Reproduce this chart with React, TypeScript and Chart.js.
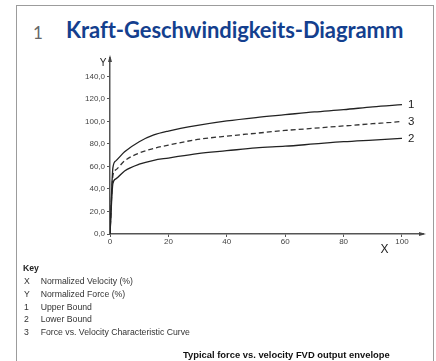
import React, { useEffect, useRef } from "react";
import { Chart, registerables } from "chart.js";

Chart.register(...registerables);

const velocity = [0, 1, 2, 5, 10, 15, 20, 30, 40, 50, 60, 70, 80, 90, 100];
const upperBound = [0, 59, 65, 73, 82, 88, 91.5, 96.5, 100.5, 103.5, 106, 108.5, 110.5, 113, 115];
const characteristic = [0, 52, 57, 65, 72, 76, 79, 84, 87, 89.5, 92, 94, 96, 98, 100];
const lowerBound = [0, 45, 49, 56, 62, 65.5, 67.5, 71.5, 74, 76.5, 78, 80, 82, 83.5, 85];
const seriesLabels = ["1", "3", "2"];
const xTicks = [0, 20, 40, 60, 80, 100];
const yTicks = [0, 20, 40, 60, 80, 100, 120, 140];
const keyRows: [string, string][] = [
  ["X", "Normalized Velocity (%)"],
  ["Y", "Normalized Force (%)"],
  ["1", "Upper Bound"],
  ["2", "Lower Bound"],
  ["3", "Force vs. Velocity Characteristic Curve"],
];

const toPoints = (ys: number[]) => velocity.map((x, i) => ({ x, y: ys[i] }));

const overlay = {
  id: "overlay",
  afterDraw(chart: any) {
    const { ctx, chartArea, scales } = chart;
    const xs = scales.x;
    const ys = scales.y;
    ctx.save();
    ctx.fillStyle = "#444";
    // y arrow
    ctx.beginPath();
    ctx.moveTo(chartArea.left, chartArea.top - 3);
    ctx.lineTo(chartArea.left - 2, chartArea.top + 4);
    ctx.lineTo(chartArea.left + 2, chartArea.top + 4);
    ctx.closePath();
    ctx.fill();
    // x arrow
    ctx.beginPath();
    ctx.moveTo(chartArea.right + 3, chartArea.bottom);
    ctx.lineTo(chartArea.right - 4, chartArea.bottom - 2);
    ctx.lineTo(chartArea.right - 4, chartArea.bottom + 2);
    ctx.closePath();
    ctx.fill();
    // series end labels
    ctx.fillStyle = "#222";
    ctx.font = "11.5px 'Liberation Sans', Arial, sans-serif";
    ctx.textBaseline = "middle";
    ctx.textAlign = "left";
    chart.data.datasets.forEach((ds: any, i: number) => {
      const last = ds.data[ds.data.length - 1];
      ctx.fillText(seriesLabels[i], xs.getPixelForValue(last.x) + 6, ys.getPixelForValue(last.y));
    });
    // axis letters
    ctx.font = "12px 'Liberation Sans', Arial, sans-serif";
    ctx.textAlign = "center";
    ctx.fillText("X", xs.getPixelForValue(94), chartArea.bottom + 16);
    ctx.font = "10px 'Liberation Sans', Arial, sans-serif";
    ctx.fillText("Y", chartArea.left - 7, chartArea.top + 5);
    ctx.restore();
  },
};

export default function App() {
  const ref = useRef<HTMLCanvasElement>(null);
  useEffect(() => {
    if (!ref.current) return;
    const tickFont = { family: "'Liberation Sans', Arial, sans-serif", size: 8 };
    const chart = new Chart(ref.current, {
      type: "line",
      data: {
        datasets: [
          {
            label: "Upper Bound",
            data: toPoints(upperBound),
            borderColor: "#222",
            borderWidth: 1.3,
            pointRadius: 0,
            cubicInterpolationMode: "monotone",
          },
          {
            label: "Force vs. Velocity Characteristic Curve",
            data: toPoints(characteristic),
            borderColor: "#333",
            borderWidth: 1.3,
            borderDash: [5, 3],
            pointRadius: 0,
            cubicInterpolationMode: "monotone",
          },
          {
            label: "Lower Bound",
            data: toPoints(lowerBound),
            borderColor: "#222",
            borderWidth: 1.3,
            pointRadius: 0,
            cubicInterpolationMode: "monotone",
          },
        ],
      },
      options: {
        responsive: false,
        animation: false,
        layout: { padding: { left: 70, right: 13, top: 58, bottom: 107 } },
        plugins: { legend: { display: false }, tooltip: { enabled: false } },
        scales: {
          x: {
            type: "linear",
            min: 0,
            max: 107.2,
            afterFit: (s: any) => { s.height = 20; },
            afterBuildTicks: (s: any) => { s.ticks = xTicks.map((v) => ({ value: v })); },
            ticks: { font: tickFont, color: "#444", padding: 0, maxRotation: 0 },
            grid: { drawOnChartArea: false, drawTicks: true, tickLength: 3, color: "#555" },
            border: { color: "#555", width: 1.5 },
          },
          y: {
            type: "linear",
            min: 0,
            max: 156.4,
            afterFit: (s: any) => { s.width = 40; },
            afterBuildTicks: (s: any) => { s.ticks = yTicks.map((v) => ({ value: v })); },
            ticks: {
              font: tickFont,
              color: "#444",
              padding: 2,
              callback: (v: any) => Number(v).toFixed(1).replace(".", ","),
            },
            grid: { drawOnChartArea: false, drawTicks: true, tickLength: 3, color: "#555" },
            border: { color: "#555", width: 1.5 },
          },
        },
      },
      plugins: [overlay],
    } as any);
    return () => chart.destroy();
  }, []);

  const keyFont = "'Liberation Sans', Arial, sans-serif";
  return (
    <div style={{ position: "fixed", left: 0, top: 0, width: 436, height: 361, overflow: "hidden", background: "#fff" }}>
      <div style={{ position: "absolute", left: 15.5, top: 4.5, width: 416, height: 400, borderLeft: "1.5px solid #9c9c9c", borderTop: "1.5px solid #9c9c9c", borderRight: "1.5px solid #9c9c9c" }} />
      <div style={{ position: "absolute", left: 33, top: 24, fontFamily: "Lato, 'Open Sans', sans-serif", fontSize: 17, lineHeight: "17px", color: "#666" }}>1</div>
      <div style={{ position: "absolute", left: 66, top: 19, fontFamily: "Lato, 'Open Sans', sans-serif", fontWeight: 700, fontSize: 22, lineHeight: "22px", color: "#143f8e", whiteSpace: "nowrap", letterSpacing: -0.07 }}>
        Kraft-Geschwindigkeits-Diagramm
      </div>
      <canvas ref={ref} width={436} height={361} style={{ position: "absolute", left: 0, top: 0 }} />
      <div style={{ position: "absolute", left: 23, top: 264, fontFamily: keyFont, fontWeight: 700, fontSize: 8.7, lineHeight: "9px", color: "#222" }}>Key</div>
      {keyRows.map(([k, t], i) => (
        <div key={k} style={{ position: "absolute", left: 24, top: 277 + i * 12.8, fontFamily: keyFont, fontSize: 8.7, lineHeight: "9px", color: "#333", whiteSpace: "nowrap" }}>
          <span style={{ display: "inline-block", width: 16.7 }}>{k}</span>
          <span>{t}</span>
        </div>
      ))}
      <div style={{ position: "absolute", left: 183, top: 349.5, fontFamily: keyFont, fontWeight: 700, fontSize: 9.4, lineHeight: "10px", color: "#111", whiteSpace: "nowrap" }}>
        Typical force vs. velocity FVD output envelope
      </div>
    </div>
  );
}
